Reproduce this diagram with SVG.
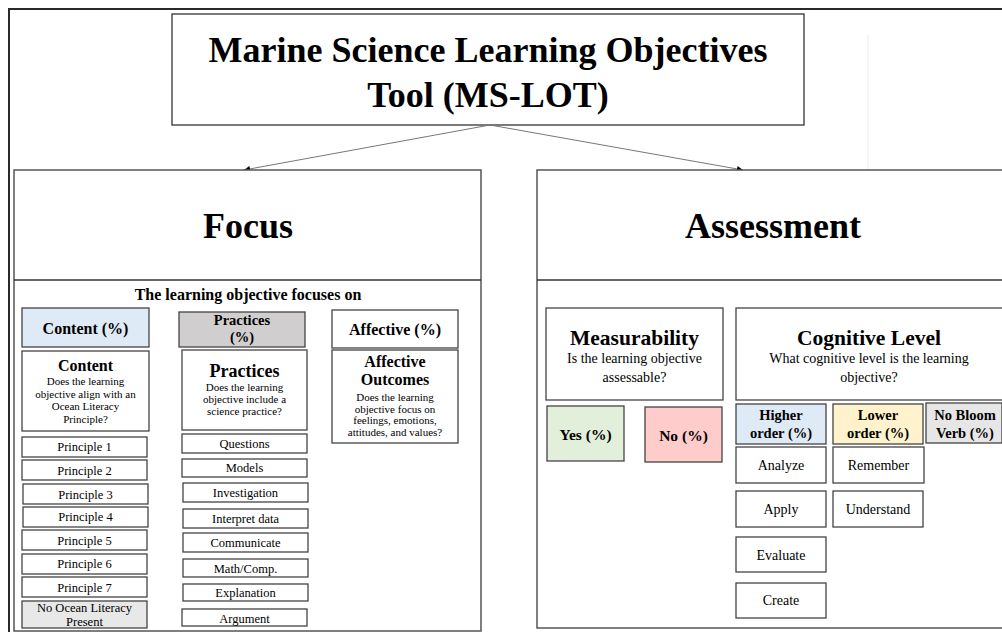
<svg xmlns="http://www.w3.org/2000/svg" width="1002" height="632" viewBox="0 0 1002 632">
<defs>
<style>
text{font-family:"Liberation Serif","Times New Roman",serif;fill:#000;text-anchor:middle}
.b{font-weight:bold}
.frame{fill:none;stroke:#2a2a2a;stroke-width:2}
.big{fill:#fff;stroke:#555;stroke-width:1.5}
.box{fill:#fff;stroke:#444;stroke-width:1.3}
.div{stroke:#333;stroke-width:1.5}
.conn{stroke:#777;stroke-width:1;fill:none}
.t36{font-size:36px}
.t16{font-size:16px}
.t18{font-size:18px}
.t21{font-size:21.5px}
.t15{font-size:15.5px}
.t14b{font-size:14.5px}
.t14{font-size:14px}
.t12{font-size:12.5px}
.t11{font-size:11px}
</style>
<marker id="ah" viewBox="0 0 10 10" refX="10" refY="5" markerWidth="7" markerHeight="6" orient="auto" markerUnits="userSpaceOnUse">
<path d="M0,0 L10,5 L0,10 z" fill="#000"/>
</marker>
</defs>
<rect width="1002" height="632" fill="#fff"/>
<rect class="frame" x="9" y="9" width="1010" height="640"/>
<line x1="868" y1="35" x2="868" y2="308" stroke="#ececec" stroke-width="1"/>

<g id="title">
<rect class="box" x="172" y="14" width="632" height="111" style="stroke:#333"/>
<text class="b t36" x="488" y="62">Marine Science Learning Objectives</text>
<text class="b t36" x="488" y="107">Tool (MS-LOT)</text>
</g>

<g id="connectors">
<line class="conn" x1="490" y1="125" x2="244" y2="170" marker-end="url(#ah)"/>
<line class="conn" x1="490" y1="125" x2="743" y2="170" marker-end="url(#ah)"/>
</g>

<g id="focus">
<rect class="big" x="14" y="170" width="467" height="461"/>
<line class="div" x1="14" y1="280" x2="481" y2="280"/>
<text class="b t36" x="248" y="238">Focus</text>
<text class="b t16" x="248" y="300">The learning objective focuses on</text>
</g>

<g id="assessment">
<rect class="big" x="537" y="170" width="472" height="458"/>
<line class="div" x1="537" y1="280" x2="1009" y2="280"/>
<text class="b t36" x="773" y="238">Assessment</text>
</g>

<g id="content-pct">
<rect class="box" x="22" y="308" width="127" height="39" style="fill:#deebf7"/>
<text class="b t16" x="85.5" y="334">Content (%)</text>
</g>
<g id="practices-pct">
<rect class="box" x="179" y="312" width="126" height="35" style="fill:#d0cece"/>
<text class="b t14b" x="242" y="325">Practices</text>
<text class="b t14b" x="242" y="342">(%)</text>
</g>
<g id="affective-pct">
<rect class="box" x="332" y="310" width="126" height="38"/>
<text class="b t16" x="395" y="335">Affective (%)</text>
</g>

<g id="content">
<rect class="box" x="22" y="351" width="127" height="80"/>
<text class="b t16" x="85.5" y="371">Content</text>
<text class="t11" x="85.5" y="385">Does the learning</text>
<text class="t11" x="85.5" y="397.5">objective align with an</text>
<text class="t11" x="85.5" y="410">Ocean Literacy</text>
<text class="t11" x="85.5" y="422.5">Principle?</text>
</g>
<g id="practices">
<rect class="box" x="182" y="350" width="125" height="80"/>
<text class="b t18" x="244.5" y="377">Practices</text>
<text class="t11" x="244.5" y="391">Does the learning</text>
<text class="t11" x="244.5" y="403">objective include a</text>
<text class="t11" x="244.5" y="415">science practice?</text>
</g>
<g id="affective">
<rect class="box" x="332" y="350" width="126" height="93"/>
<text class="b t16" x="395" y="367">Affective</text>
<text class="b t16" x="395" y="385">Outcomes</text>
<text class="t11" x="395" y="401">Does the learning</text>
<text class="t11" x="395" y="412.5">objective focus on</text>
<text class="t11" x="395" y="424">feelings, emotions,</text>
<text class="t11" x="395" y="435.5">attitudes, and values?</text>
</g>

<g id="principle1"><rect class="box" x="22" y="437" width="125" height="20"/><text class="t12" x="84.5" y="451">Principle 1</text></g>
<g id="principle2"><rect class="box" x="22" y="460" width="125" height="20"/><text class="t12" x="84.5" y="475">Principle 2</text></g>
<g id="principle3"><rect class="box" x="23" y="484" width="125" height="20"/><text class="t12" x="85.5" y="498.5">Principle 3</text></g>
<g id="principle4"><rect class="box" x="23" y="507" width="125" height="20"/><text class="t12" x="85.5" y="521">Principle 4</text></g>
<g id="principle5"><rect class="box" x="22" y="530" width="125" height="20"/><text class="t12" x="84.5" y="544.5">Principle 5</text></g>
<g id="principle6"><rect class="box" x="22" y="554" width="125" height="20"/><text class="t12" x="84.5" y="568">Principle 6</text></g>
<g id="principle7"><rect class="box" x="22" y="577" width="125" height="20"/><text class="t12" x="84.5" y="591.5">Principle 7</text></g>
<g id="no-ocean-literacy"><rect class="box" x="22" y="601" width="125" height="27" style="fill:#e8e8e8"/><text class="t12" x="84.5" y="612">No Ocean Literacy</text><text class="t12" x="84.5" y="626">Present</text></g>

<g id="questions"><rect class="box" x="182" y="434" width="125" height="19"/><text class="t12" x="244.5" y="448">Questions</text></g>
<g id="models"><rect class="box" x="182" y="459" width="125" height="18"/><text class="t12" x="244.5" y="472">Models</text></g>
<g id="investigation"><rect class="box" x="183" y="483" width="125" height="19"/><text class="t12" x="245.5" y="496.5">Investigation</text></g>
<g id="interpret-data"><rect class="box" x="183" y="509" width="125" height="19"/><text class="t12" x="245.5" y="523">Interpret data</text></g>
<g id="communicate"><rect class="box" x="183" y="533" width="125" height="19"/><text class="t12" x="245.5" y="546.5">Communicate</text></g>
<g id="math-comp"><rect class="box" x="183" y="559" width="125" height="18"/><text class="t12" x="245.5" y="572.5">Math/Comp.</text></g>
<g id="explanation"><rect class="box" x="183" y="584" width="125" height="17"/><text class="t12" x="245.5" y="597">Explanation</text></g>
<g id="argument"><rect class="box" x="182" y="609" width="125" height="17"/><text class="t12" x="244.5" y="622.5">Argument</text></g>

<g id="measurability">
<rect class="box" x="546" y="308" width="177" height="92"/>
<text class="b t21" x="634.5" y="345">Measurability</text>
<text class="t14" x="634.5" y="363">Is the learning objective</text>
<text class="t14" x="634.5" y="381.5">assessable?</text>
</g>
<g id="cognitive-level">
<rect class="box" x="736" y="308" width="270" height="92"/>
<text class="b t21" x="869" y="345">Cognitive Level</text>
<text class="t14" x="869" y="363">What cognitive level is the learning</text>
<text class="t14" x="869" y="381.5">objective?</text>
</g>
<g id="yes">
<rect class="box" x="547" y="406" width="77" height="55" style="fill:#e2efda"/>
<text class="b t15" x="585.5" y="439.5">Yes (%)</text>
</g>
<g id="no">
<rect class="box" x="645" y="407" width="77" height="55" style="fill:#ffcccc"/>
<text class="b t15" x="683.5" y="440.5">No (%)</text>
</g>
<g id="higher-order">
<rect class="box" x="736" y="404" width="90" height="40" style="fill:#deebf7"/>
<text class="b t14b" x="781" y="420">Higher</text>
<text class="b t14b" x="781" y="437.5">order (%)</text>
</g>
<g id="lower-order">
<rect class="box" x="833" y="404" width="90" height="40" style="fill:#fff2cc"/>
<text class="b t14b" x="878" y="420">Lower</text>
<text class="b t14b" x="878" y="437.5">order (%)</text>
</g>
<g id="no-bloom">
<rect class="box" x="926" y="403" width="76" height="40" style="fill:#e7e6e6"/>
<text class="b t14b" x="965" y="420">No Bloom</text>
<text class="b t14b" x="965" y="437.5">Verb (%)</text>
</g>
<g id="analyze"><rect class="box" x="736" y="447" width="90" height="36"/><text class="t14" x="781" y="470">Analyze</text></g>
<g id="remember"><rect class="box" x="833" y="447" width="91" height="36"/><text class="t14" x="878.5" y="470">Remember</text></g>
<g id="apply"><rect class="box" x="736" y="491" width="90" height="36"/><text class="t14" x="781" y="514">Apply</text></g>
<g id="understand"><rect class="box" x="833" y="491" width="90" height="36"/><text class="t14" x="878" y="514">Understand</text></g>
<g id="evaluate"><rect class="box" x="736" y="537" width="90" height="35"/><text class="t14" x="781" y="559.5">Evaluate</text></g>
<g id="create"><rect class="box" x="736" y="583" width="90" height="35"/><text class="t14" x="781" y="605">Create</text></g>
</svg>
